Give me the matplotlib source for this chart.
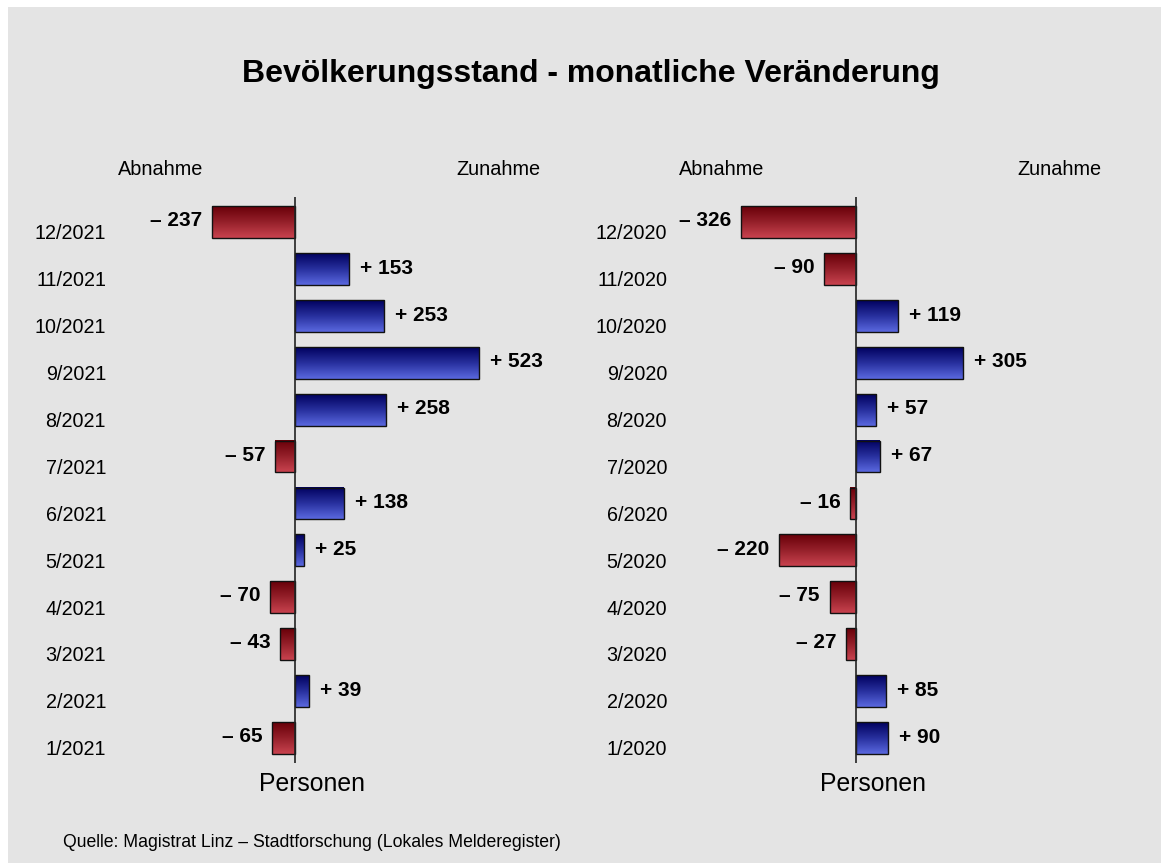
import numpy as np
import matplotlib.pyplot as plt
from matplotlib.patches import Rectangle
from matplotlib.colors import LinearSegmentedColormap
from matplotlib.transforms import ScaledTranslation, blended_transform_factory

plt.rcParams['font.family'] = ['Liberation Sans', 'DejaVu Sans']

months_2021 = ['1/2021', '2/2021', '3/2021', '4/2021', '5/2021', '6/2021',
               '7/2021', '8/2021', '9/2021', '10/2021', '11/2021', '12/2021']
values_2021 = [-65, 39, -43, -70, 25, 138, -57, 258, 523, 253, 153, -237]

months_2020 = ['1/2020', '2/2020', '3/2020', '4/2020', '5/2020', '6/2020',
               '7/2020', '8/2020', '9/2020', '10/2020', '11/2020', '12/2020']
values_2020 = [90, 85, -27, -75, -220, -16, 67, 57, 305, 119, -90, -326]

W, H = 1161, 863
fig = plt.figure(figsize=(W / 100, H / 100), dpi=100)
fig.patch.set_facecolor('white')
fig.add_artist(Rectangle((8 / W, 0), 1 - 8 / W, 1 - 7 / H, transform=fig.transFigure,
                         facecolor='#e4e4e4', edgecolor='none', zorder=-10))

blue_cmap = LinearSegmentedColormap.from_list('b', ['#5b69e0', '#28309e', '#00005e'])
red_cmap = LinearSegmentedColormap.from_list('r', ['#c9434f', '#95202a', '#680008'])
grad = np.linspace(0, 1, 256).reshape(-1, 1)

XMIN, XMAX = -525, 753
px_per_unit = 0.352
ax_w = (XMAX - XMIN) * px_per_unit


def panel(zero_px, months, values):
    left = zero_px + XMIN * px_per_unit
    ax = fig.add_axes([left / W, 1 - 763 / H, ax_w / W, 566 / H])
    ax.set_facecolor('none')
    for s in ax.spines.values():
        s.set_visible(False)
    y = np.arange(len(values))
    bars = ax.barh(y, values, height=0.68, facecolor='none', edgecolor='#111111',
                   linewidth=1.0, zorder=3)
    # gradient fill inside each bar
    for b, v in zip(bars, values):
        x0, y0, bw, bh = b.get_x(), b.get_y(), b.get_width(), b.get_height()
        cmap = blue_cmap if v > 0 else red_cmap
        ax.imshow(grad, cmap=cmap, aspect='auto', origin='lower',
                  extent=(x0, x0 + bw, y0, y0 + bh), zorder=2)
        if v > 0:
            ax.annotate(f'+ {v}', (v, b.get_y() + bh / 2), xytext=(8, 0.5),
                        textcoords='offset points', ha='left', va='center',
                        fontsize=15, fontweight='bold')
        else:
            ax.annotate(f'\u2013 {abs(v)}', (v, b.get_y() + bh / 2), xytext=(-7, 1),
                        textcoords='offset points', ha='right', va='center',
                        fontsize=15, fontweight='bold')
    ax.axvline(0, color='#222222', linewidth=1.2, zorder=4)
    ax.set_xlim(XMIN, XMAX)
    ax.set_ylim(-0.53, 11.53)
    ax.set_xticks([])
    ax.set_yticks(y)
    ax.set_yticklabels(months, fontsize=14.2)
    ax.tick_params(axis='y', length=0, pad=3)
    for lbl in ax.get_yticklabels():
        lbl.set_transform(lbl.get_transform() + ScaledTranslation(0, -7 / 72, fig.dpi_scale_trans))
    tr = blended_transform_factory(ax.transData, ax.transAxes)
    ax.text(-383, 1 + 28 / 566, 'Abnahme', transform=tr, ha='center', va='center', fontsize=14.3)
    ax.text(577, 1 + 28 / 566, 'Zunahme', transform=tr, ha='center', va='center', fontsize=14.3)
    ax.text(48, -21 / 566, 'Personen', transform=tr, ha='center', va='center', fontsize=17.8)
    return ax


panel(295, months_2021, values_2021)
panel(856, months_2020, values_2020)

fig.text(591 / W, 1 - 74 / H, 'Bevölkerungsstand - monatliche Veränderung',
         ha='center', va='center', fontsize=23, fontweight='bold')
fig.text(63 / W, 1 - 842 / H, 'Quelle: Magistrat Linz \u2013 Stadtforschung (Lokales Melderegister)',
         ha='left', va='center', fontsize=12.7)

fig.savefig('out.png', dpi=100)
